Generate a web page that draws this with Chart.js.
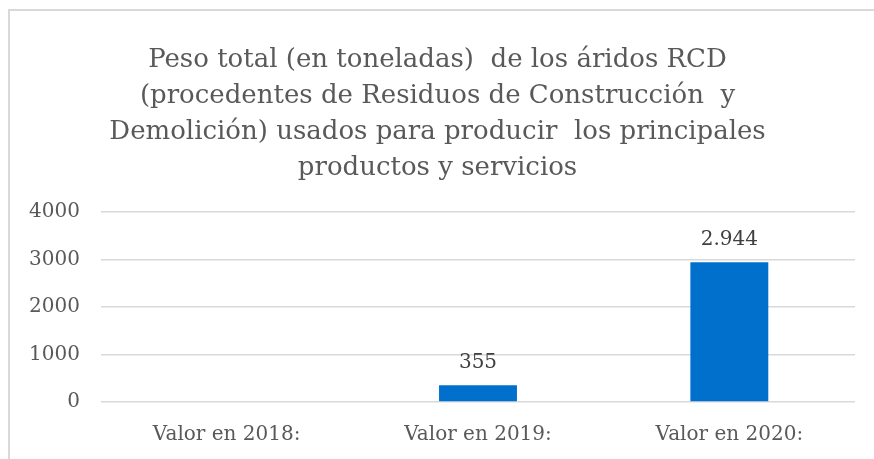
<!DOCTYPE html>
<html>
<head>
<meta charset="utf-8">
<script src="https://cdn.jsdelivr.net/npm/chart.js@4"></script>
<style>
  html, body { margin: 0; padding: 0; background: #fff; }
  #wrap { position: relative; width: 874px; height: 459px; overflow: hidden; }
  #frame {
    position: absolute; left: 8px; top: 9px; width: 900px; height: 500px;
    border-top: 2px solid #d9d9d9; border-left: 2px solid #d9d9d9;
    pointer-events: none;
  }
  canvas { position: absolute; left: 0; top: 0; }
</style>
</head>
<body>
<div id="wrap">
  <canvas id="chart" width="874" height="459"></canvas>
  <div id="frame"></div>
</div>
<script>
const titleLines = [
  'Peso total (en toneladas)  de los áridos RCD',
  '(procedentes de Residuos de Construcción  y',
  'Demolición) usados para producir  los principales',
  'productos y servicios',
];
const categories = ['Valor en 2018:', 'Valor en 2019:', 'Valor en 2020:'];
const values = [null, 355, 2944];
const yTicks = [0, 1000, 2000, 3000, 4000];

const textColor = '#595959';
const gridColor = '#d9d9d9';
const barColor = '#0070cc';

function formatEs(v) {
  return String(v).replace(/\B(?=(\d{3})+(?!\d))/g, '.');
}

const valueLabels = {
  id: 'valueLabels',
  afterDatasetsDraw(chart) {
    const { ctx } = chart;
    const meta = chart.getDatasetMeta(0);
    ctx.save();
    ctx.font = '20px "DejaVu Serif"';
    ctx.fillStyle = '#404040';
    ctx.textAlign = 'center';
    ctx.textBaseline = 'middle';
    meta.data.forEach((bar, i) => {
      if (values[i] === null) return;
      ctx.fillText(formatEs(values[i]), bar.x, bar.y - 22);
    });
    ctx.restore();
  },
};

new Chart(document.getElementById('chart'), {
  type: 'bar',
  data: {
    labels: categories,
    datasets: [{
      data: values,
      backgroundColor: barColor,
      barPercentage: 0.5,
      categoryPercentage: 0.62,
    }],
  },
  options: {
    responsive: false,
    animation: false,
    layout: {
      padding: { left: 20, right: 19, top: 0, bottom: 0 },
    },
    scales: {
      x: {
        afterFit(scale) { scale.height = 57; },
        grid: { display: false },
        border: { display: false },
        ticks: {
          color: textColor,
          font: { family: 'DejaVu Serif', size: 20 },
          padding: 13,
          maxRotation: 0,
        },
      },
      y: {
        min: 0,
        max: 4000,
        afterFit(scale) { scale.width = 81; },
        afterBuildTicks(scale) { scale.ticks = yTicks.map((v) => ({ value: v })); },
        grid: { color: gridColor, lineWidth: 1.5, drawTicks: false },
        border: { display: false },
        ticks: {
          color: textColor,
          font: { family: 'DejaVu Serif', size: 20 },
          padding: 21,
          callback: (v) => String(v),
        },
      },
    },
    plugins: {
      legend: { display: false },
      tooltip: { enabled: false },
      title: {
        display: true,
        text: titleLines,
        color: textColor,
        font: { family: 'DejaVu Serif', size: 26, weight: 'normal', lineHeight: 1.385 },
        padding: { top: 42, bottom: 26 },
      },
    },
  },
  plugins: [valueLabels],
});
</script>
</body>
</html>
